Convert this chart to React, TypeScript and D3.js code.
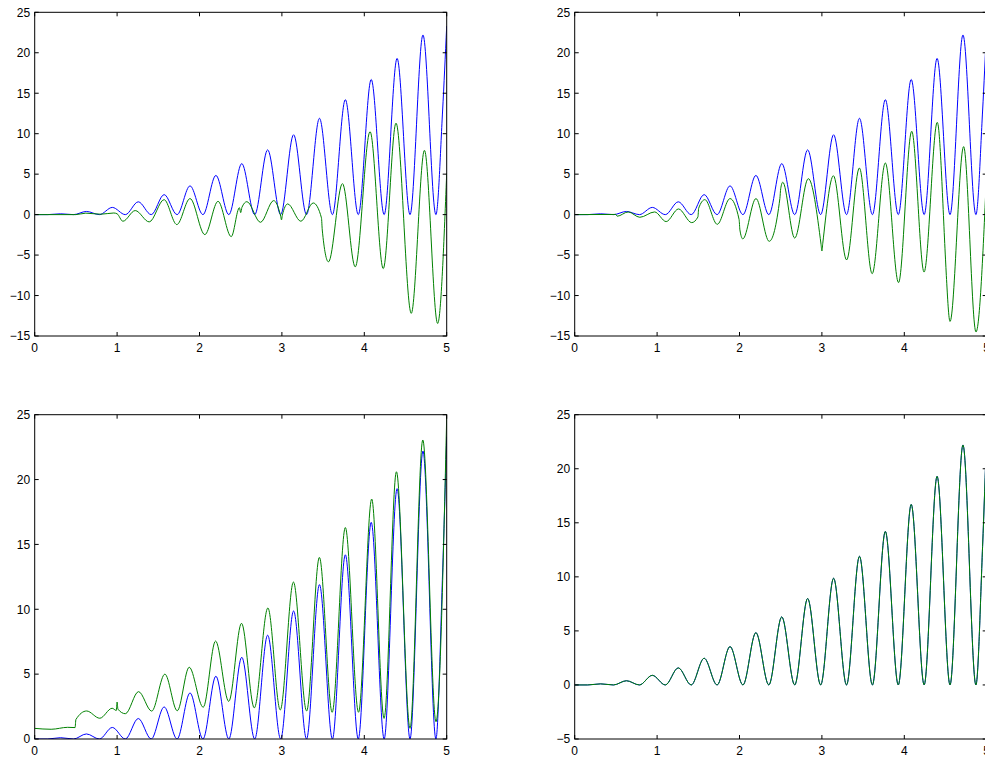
import React from "react";
import * as d3 from "d3";

// ---- Data (local extrema / key points, [x, y]) ----
const BLUE: [number, number][] = [
  [0, 0], [0.157, 0], [0.314, 0.1], [0.471, 0], [0.628, 0.39], [0.785, 0],
  [0.942, 0.89], [1.1, 0], [1.257, 1.58], [1.414, 0], [1.571, 2.47], [1.728, 0],
  [1.885, 3.55], [2.042, 0], [2.199, 4.84], [2.356, 0], [2.513, 6.3], [2.67, 0],
  [2.827, 8.0], [2.985, 0], [3.142, 9.87], [3.299, 0], [3.456, 11.9], [3.613, 0],
  [3.77, 14.2], [3.927, 0], [4.084, 16.7], [4.241, 0], [4.398, 19.3], [4.555, 0],
  [4.712, 22.2], [4.869, 0], [4.95, 12.8], [5.0, 23.3],
];

const GREEN_1: [number, number][] = [
  [0, 0], [0.5, 0], [0.62, 0.18], [0.8, 0.05], [0.96, 0.2], [1.0, 0.1],
  [1.07, -0.82], [1.22, 0.5], [1.39, -0.9], [1.57, 1.85], [1.725, -1.23],
  [1.885, 1.98], [2.065, -2.47], [2.225, 1.64], [2.385, -2.72],
  [2.485, 0.85], [2.5, 0.25], [2.515, 0.9], [2.575, 1.6], [2.74, -0.95],
  [2.9, 1.73], [2.985, -0.2], [2.995, -0.65], [3.005, -0.1], [3.07, 1.32],
  [3.23, -0.82], [3.38, 1.44], [3.48, -0.4], [3.49, -1.9], [3.565, -5.84],
  [3.735, 3.83], [3.89, -6.46], [4.07, 10.25], [4.23, -6.67], [4.385, 11.3],
  [4.57, -12.2], [4.73, 7.94], [4.89, -13.45], [5.0, 5.1],
];

const GREEN_2: [number, number][] = [
  [0, 0], [0.5, 0.02], [0.515, -0.2], [0.65, 0.33], [0.79, -0.33], [0.97, 0.33],
  [1.11, -0.86], [1.26, 0.7], [1.42, -0.99], [1.495, -0.3], [1.505, 0.8],
  [1.58, 1.85], [1.73, -1.2], [1.885, 1.98], [1.995, -0.6], [2.005, -1.9],
  [2.04, -3.0], [2.2, 1.98], [2.36, -3.3], [2.49, 2.0], [2.5, 3.2],
  [2.525, 4.0], [2.67, -2.9], [2.835, 4.44], [2.99, -3.7], [3.0, -4.5],
  [3.01, -3.6], [3.14, 4.8], [3.3, -5.6], [3.455, 5.76], [3.61, -7.3],
  [3.77, 6.38], [3.93, -8.4], [4.09, 10.3], [4.24, -7.1], [4.4, 11.4],
  [4.5, -5.5], [4.51, -7.5], [4.555, -13.2], [4.72, 8.4], [4.87, -14.5],
  [5.0, 5.5],
];

const GREEN_3: [number, number][] = [
  [0, 0.82], [0.2, 0.75], [0.4, 0.9], [0.49, 0.88], [0.5, 1.5], [0.63, 2.16],
  [0.79, 1.6], [0.94, 2.37], [0.99, 2.2], [1.0, 2.85], [1.01, 2.3], [1.1, 1.95],
  [1.26, 3.65], [1.42, 2.15], [1.58, 5.0], [1.73, 2.18], [1.875, 5.53],
  [2.045, 2.45], [2.195, 7.55], [2.355, 2.9], [2.51, 8.92], [2.665, 2.4],
  [2.83, 10.1], [2.98, 2.24], [3.14, 12.1], [3.3, 2.16], [3.455, 14.0],
  [3.61, 2.06], [3.77, 16.3], [3.93, 2.06], [4.09, 18.5], [4.24, 1.59],
  [4.39, 20.6], [4.555, 0.82], [4.71, 23.05], [4.87, 1.33], [5.0, 24.85],
];

const GREEN_4: [number, number][] = BLUE.map((p) => [p[0], p[1]]);

const X_TICKS = [0, 1, 2, 3, 4, 5];
const Y_TICKS_TOP = [-15, -10, -5, 0, 5, 10, 15, 20, 25];
const Y_TICKS_C = [0, 5, 10, 15, 20, 25];
const Y_TICKS_D = [-5, 0, 5, 10, 15, 20, 25];

// ---- Layout ----
const W = 985;
const H = 758;
const PW = 412;
const BLUE_C = "#0000ff";
const GREEN_C = "#008000";
const FONT = "'Liberation Sans', Arial, Helvetica, sans-serif";

const panels = [
  { id: "a", left: 34.7, top: 12.3, bottom: 336, dom: [-15, 25], ticks: Y_TICKS_TOP, green: GREEN_1 },
  { id: "b", left: 574.7, top: 12.3, bottom: 336, dom: [-15, 25], ticks: Y_TICKS_TOP, green: GREEN_2 },
  { id: "c", left: 34.7, top: 414.7, bottom: 739, dom: [0, 25], ticks: Y_TICKS_C, green: GREEN_3 },
  { id: "d", left: 574.7, top: 414.7, bottom: 739, dom: [-5, 25], ticks: Y_TICKS_D, green: GREEN_4 },
];

const fmt = (v: number) => (v < 0 ? "\u2212" + Math.abs(v) : String(v));

function Panel({ p }: { p: (typeof panels)[number] }) {
  const x = d3.scaleLinear().domain([0, 5]).range([p.left, p.left + PW]);
  const y = d3.scaleLinear().domain(p.dom as [number, number]).range([p.bottom, p.top]);
  const line = d3
    .line<[number, number]>()
    .x((d) => x(d[0]))
    .y((d) => y(d[1]))
    .curve(d3.curveMonotoneX);
  const TL = 4;
  const r = p.left + PW;
  return (
    <g>
      <defs>
        <clipPath id={"clip-" + p.id}>
          <rect x={p.left} y={p.top} width={PW} height={p.bottom - p.top} />
        </clipPath>
      </defs>
      <g clipPath={`url(#clip-${p.id})`} fill="none" strokeWidth={1}>
        <path d={line(BLUE) || ""} stroke={BLUE_C} />
        <path d={line(p.green) || ""} stroke={GREEN_C} />
      </g>
      <rect x={p.left} y={p.top} width={PW} height={p.bottom - p.top} fill="none" stroke="#000" strokeWidth={1} />
      {X_TICKS.map((t) => (
        <g key={"x" + t}>
          <line x1={x(t)} x2={x(t)} y1={p.bottom} y2={p.bottom - TL} stroke="#000" />
          <line x1={x(t)} x2={x(t)} y1={p.top} y2={p.top + TL} stroke="#000" />
          <text x={x(t)} y={p.bottom + 15.5} textAnchor="middle" fontSize={12} fontFamily={FONT} fill="#000">
            {fmt(t)}
          </text>
        </g>
      ))}
      {p.ticks.map((t) => (
        <g key={"y" + t}>
          <line x1={p.left} x2={p.left + TL} y1={y(t)} y2={y(t)} stroke="#000" />
          <line x1={r} x2={r - TL} y1={y(t)} y2={y(t)} stroke="#000" />
          <text x={p.left - 4.5} y={y(t) + 4.3} textAnchor="end" fontSize={12} fontFamily={FONT} fill="#000">
            {fmt(t)}
          </text>
        </g>
      ))}
    </g>
  );
}

export default function App() {
  return (
    <div style={{ position: "absolute", left: 0, top: 0, width: W, height: H, overflow: "hidden", background: "#fff" }}>
      <svg width={W} height={H} style={{ display: "block" }}>
        <rect x={0} y={0} width={W} height={H} fill="#fff" />
        {panels.map((p) => (
          <Panel key={p.id} p={p} />
        ))}
      </svg>
    </div>
  );
}
